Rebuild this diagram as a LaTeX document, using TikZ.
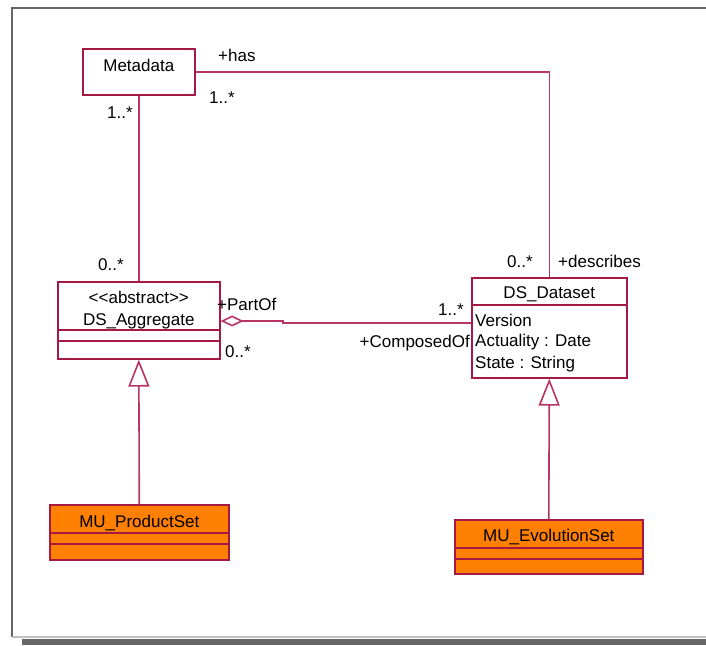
\documentclass[tikz,border=0pt]{standalone}
\usepackage{fontspec}
\setmainfont{Liberation Sans}
\usetikzlibrary{positioning,arrows.meta}
\definecolor{umlline}{RGB}{184,52,100}
\definecolor{umlbox}{RGB}{164,26,68}
\definecolor{umlfill}{RGB}{255,128,0}

\begin{document}
\begin{tikzpicture}[x=1pt, y=-1pt,
    every node/.style={font=\fontsize{17}{21}\selectfont, inner sep=0pt},
    classbox/.style={draw=umlbox, line width=1.6pt, anchor=north west, inner sep=0pt},
    subclass/.style={classbox, fill=umlfill},
    divider/.style={draw=umlbox, line width=1.6pt},
    assoc/.style={draw=umlline, line width=1.6pt},
    lbl/.style={anchor=base west},
    clsname/.style={anchor=base}
]
\useasboundingbox (0,0) rectangle (706,645);

% page frame and shadow
\fill[gray!80!black] (22,639) rectangle (706,645);
\draw[gray!80!black, line width=2pt] (706,8) -- (12,8) -- (12,637);
\draw[gray!50, line width=1.5pt] (12,637) -- (706,637);

% classes
\node[classbox, minimum width=112pt, minimum height=46pt] (meta) at (82,48) {};
\node[classbox, minimum width=162pt, minimum height=77pt] (agg) at (57,281) {};
\node[classbox, minimum width=155pt, minimum height=100pt] (dataset) at (471,277) {};
\node[subclass, minimum width=179pt, minimum height=55pt] (product) at (49,504) {};
\node[subclass, minimum width=188pt, minimum height=54pt] (evolution) at (454,519) {};

\draw[divider] (agg.west |- 0,330) -- (agg.east |- 0,330);
\draw[divider] (agg.west |- 0,341) -- (agg.east |- 0,341);
\draw[divider] (dataset.west |- 0,305) -- (dataset.east |- 0,305);
\draw[divider] (product.west |- 0,533) -- (product.east |- 0,533);
\draw[divider] (product.west |- 0,544) -- (product.east |- 0,544);
\draw[divider] (evolution.west |- 0,548) -- (evolution.east |- 0,548);
\draw[divider] (evolution.west |- 0,559) -- (evolution.east |- 0,559);

% class texts
\node[clsname] (meta_n) at (meta.north |- 0,71) {Metadata};
\node[clsname] (agg_st) at (agg.north |- 0,303) {<{}<abstract>{}>};
\node[clsname] (agg_n) at (agg.north |- 0,325) {DS\_Aggregate};
\node[clsname] (ds_n) at (dataset.north |- 0,298) {DS\_Dataset};
\node[lbl] (ds_a1) at (475,326) {Version};
\node[lbl] (ds_a2) at (475,346) {Actuality : Date};
\node[lbl] (ds_a3) at (475,368) {State : String};
\node[clsname] (prod_n) at (product.north |- 0,527) {MU\_ProductSet};
\node[clsname] (evo_n) at (evolution.north |- 0,541) {MU\_EvolutionSet};

% connectors
\draw[assoc] (meta.east) -| (dataset.north);
\draw[assoc] (meta.south) -- (agg.north);
\draw[assoc, {Diamond[open, length=23pt, width=11pt]}-] (agg.east |- 0,321) -- (283,321) -- (283,323) -- (dataset.west |- 0,323);
\draw[assoc, -{Triangle[open, length=27pt, width=21pt]}] (product.north) -- (agg.south);
\draw[assoc, -{Triangle[open, length=27pt, width=21pt]}] (evolution.north) -- (dataset.south);

% roles and multiplicities
\node[lbl] (has) at (218,61) {+has};
\node[lbl] (m_has) at (209,103) {1..*};
\node[lbl] (m_meta) at (107,118) {1..*};
\node[lbl] (m_agg) at (98,270) {0..*};
\node[lbl] (partof) at (217,310) {+PartOf};
\node[lbl] (m_part) at (225,357) {0..*};
\node[lbl] (m_desc) at (507,267) {0..*};
\node[lbl] (describes) at (558,267) {+describes};
\node[lbl] (m_comp) at (438,315) {1..*};
\node[anchor=base east] (composed) at (470,347) {+ComposedOf};
\end{tikzpicture}
\end{document}
